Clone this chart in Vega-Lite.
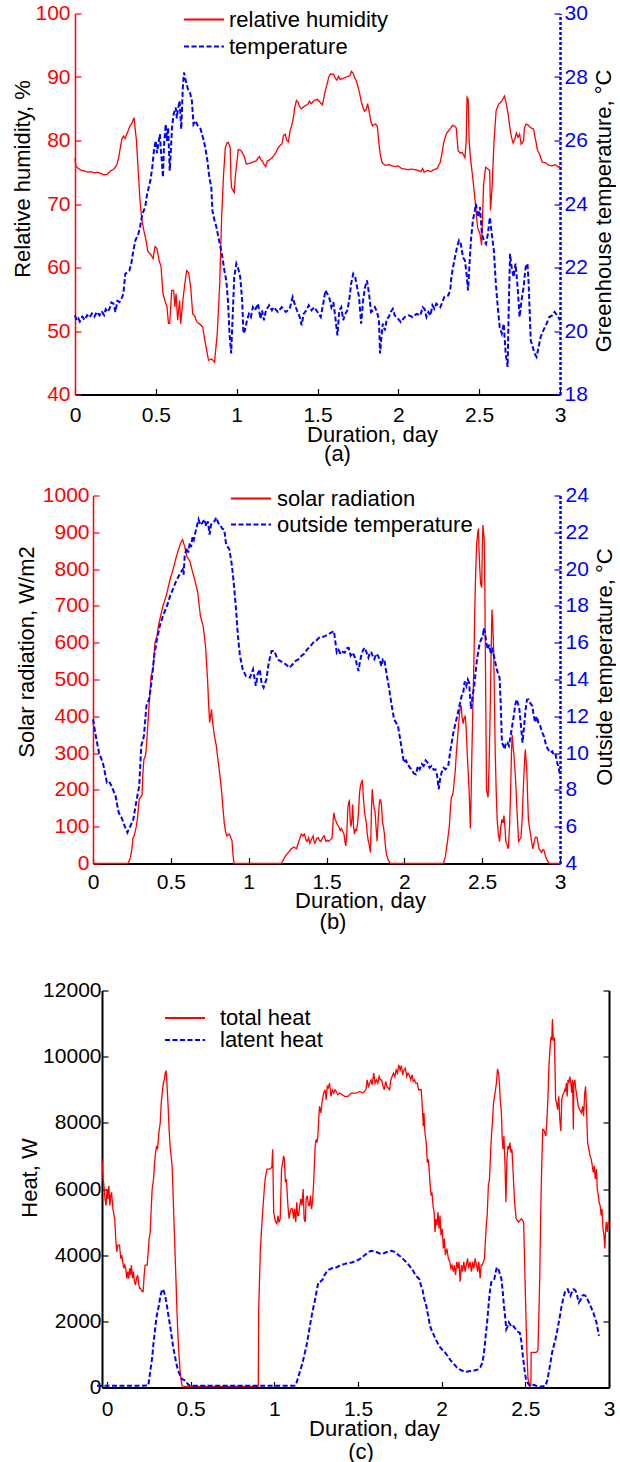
{
  "$schema": "https://vega.github.io/schema/vega-lite/v6.json",
  "background": "white",
  "padding": {"left": 0, "top": 2.5, "right": 0, "bottom": 0},
  "config": {
    "font": "Liberation Sans",
    "view": {"stroke": null},
    "axis": {"grid": false, "labelFont": "Liberation Sans", "titleFont": "Liberation Sans", "labelFontSize": 21, "titleFontSize": 22, "titleFontWeight": "normal", "titleColor": "#000000", "labelColor": "#000000", "domainColor": "#000000", "tickColor": "#000000", "tickSize": -6, "tickWidth": 1.2, "domainWidth": 1.5, "labelFlush": false, "labelOverlap": false},
    "legend": {"labelFont": "Liberation Sans", "labelFontSize": 22, "labelColor": "#000000", "labelLimit": 320, "symbolType": "M-4,0H4", "symbolSize": 100, "symbolStrokeWidth": 1.8, "padding": 0, "labelOffset": 20},
    "title": {"font": "Liberation Sans", "fontSize": 22, "fontWeight": "normal", "color": "#000000"}
  },
  "datasets": {
    "humidity": [
      {"day":0,"value":77.2},{"day":0.005,"value":76.0},{"day":0.02,"value":75.6},{"day":0.04,"value":75.3},{"day":0.06,"value":75.2},{"day":0.08,"value":75.0},{"day":0.1,"value":75.1},{"day":0.12,"value":74.9},{"day":0.14,"value":75.0},{"day":0.16,"value":74.8},{"day":0.18,"value":74.6},{"day":0.2,"value":74.7},{"day":0.22,"value":75.2},{"day":0.24,"value":75.5},{"day":0.25,"value":75.8},{"day":0.26,"value":76.3},{"day":0.27,"value":77.3},{"day":0.28,"value":78.8},{"day":0.29,"value":80.3},{"day":0.3,"value":80.7},{"day":0.31,"value":80.3},{"day":0.32,"value":81.0},{"day":0.33,"value":81.6},{"day":0.34,"value":82.3},{"day":0.35,"value":82.6},{"day":0.365,"value":83.6},{"day":0.38,"value":80.0},{"day":0.392,"value":74.8},{"day":0.402,"value":70.5},{"day":0.414,"value":67.4},{"day":0.426,"value":65.8},{"day":0.44,"value":64.2},{"day":0.45,"value":62.6},{"day":0.46,"value":62.3},{"day":0.47,"value":62.0},{"day":0.483,"value":61.4},{"day":0.495,"value":63.3},{"day":0.507,"value":63.0},{"day":0.52,"value":61.1},{"day":0.532,"value":60.2},{"day":0.544,"value":55.9},{"day":0.556,"value":54.8},{"day":0.569,"value":53.8},{"day":0.578,"value":51.2},{"day":0.586,"value":51.2},{"day":0.598,"value":56.4},{"day":0.61,"value":56.4},{"day":0.618,"value":53.8},{"day":0.625,"value":55.9},{"day":0.635,"value":51.7},{"day":0.647,"value":54.8},{"day":0.654,"value":51.1},{"day":0.667,"value":54.8},{"day":0.679,"value":57.4},{"day":0.691,"value":59.5},{"day":0.703,"value":59.2},{"day":0.716,"value":56.8},{"day":0.728,"value":52.7},{"day":0.74,"value":52.4},{"day":0.752,"value":51.5},{"day":0.765,"value":51.2},{"day":0.777,"value":51.0},{"day":0.79,"value":50.6},{"day":0.8,"value":49.0},{"day":0.814,"value":47.0},{"day":0.826,"value":45.4},{"day":0.845,"value":45.6},{"day":0.863,"value":45.1},{"day":0.88,"value":49.6},{"day":0.895,"value":57.4},{"day":0.907,"value":67.9},{"day":0.919,"value":74.7},{"day":0.93,"value":78.9},{"day":0.94,"value":79.6},{"day":0.949,"value":79.7},{"day":0.96,"value":78.9},{"day":0.965,"value":74.0},{"day":0.968,"value":72.6},{"day":0.985,"value":71.8},{"day":0.992,"value":74.5},{"day":0.998,"value":75.8},{"day":1.01,"value":78.6},{"day":1.027,"value":78.4},{"day":1.047,"value":77.5},{"day":1.059,"value":76.3},{"day":1.08,"value":76.4},{"day":1.1,"value":76.6},{"day":1.12,"value":76.8},{"day":1.14,"value":77.5},{"day":1.15,"value":77.0},{"day":1.16,"value":76.7},{"day":1.17,"value":76.2},{"day":1.18,"value":75.9},{"day":1.19,"value":76.8},{"day":1.2,"value":76.9},{"day":1.22,"value":77.3},{"day":1.24,"value":78.0},{"day":1.26,"value":79.0},{"day":1.28,"value":79.5},{"day":1.29,"value":80.8},{"day":1.3,"value":81.0},{"day":1.31,"value":80.0},{"day":1.32,"value":79.8},{"day":1.33,"value":81.5},{"day":1.34,"value":82.3},{"day":1.35,"value":83.5},{"day":1.36,"value":85.3},{"day":1.37,"value":86.3},{"day":1.38,"value":86.0},{"day":1.39,"value":85.3},{"day":1.4,"value":85.0},{"day":1.42,"value":85.4},{"day":1.44,"value":85.7},{"day":1.45,"value":86.2},{"day":1.46,"value":85.8},{"day":1.48,"value":86.3},{"day":1.5,"value":86.5},{"day":1.52,"value":85.9},{"day":1.53,"value":85.6},{"day":1.54,"value":86.8},{"day":1.55,"value":88.0},{"day":1.56,"value":89.0},{"day":1.57,"value":90.0},{"day":1.58,"value":90.5},{"day":1.6,"value":90.4},{"day":1.61,"value":89.8},{"day":1.62,"value":89.5},{"day":1.63,"value":90.1},{"day":1.64,"value":89.6},{"day":1.66,"value":89.8},{"day":1.68,"value":90.0},{"day":1.7,"value":90.2},{"day":1.71,"value":90.9},{"day":1.72,"value":90.6},{"day":1.73,"value":89.9},{"day":1.74,"value":89.4},{"day":1.75,"value":88.5},{"day":1.76,"value":87.5},{"day":1.77,"value":86.2},{"day":1.78,"value":85.3},{"day":1.79,"value":84.6},{"day":1.8,"value":84.8},{"day":1.81,"value":85.8},{"day":1.82,"value":84.5},{"day":1.83,"value":83.0},{"day":1.84,"value":82.3},{"day":1.85,"value":82.5},{"day":1.86,"value":82.6},{"day":1.87,"value":82.2},{"day":1.88,"value":79.5},{"day":1.89,"value":77.5},{"day":1.9,"value":76.5},{"day":1.92,"value":76.1},{"day":1.94,"value":76.2},{"day":1.96,"value":76.0},{"day":1.98,"value":75.9},{"day":2.0,"value":76.0},{"day":2.02,"value":75.6},{"day":2.04,"value":75.5},{"day":2.06,"value":75.4},{"day":2.08,"value":75.5},{"day":2.1,"value":75.4},{"day":2.12,"value":75.3},{"day":2.14,"value":75.1},{"day":2.15,"value":75.6},{"day":2.16,"value":75.0},{"day":2.18,"value":75.3},{"day":2.2,"value":75.1},{"day":2.22,"value":75.4},{"day":2.24,"value":75.6},{"day":2.26,"value":76.6},{"day":2.27,"value":78.0},{"day":2.28,"value":79.6},{"day":2.29,"value":80.5},{"day":2.3,"value":81.2},{"day":2.31,"value":81.5},{"day":2.32,"value":81.8},{"day":2.335,"value":82.4},{"day":2.346,"value":82.3},{"day":2.358,"value":82.0},{"day":2.37,"value":78.4},{"day":2.383,"value":78.0},{"day":2.395,"value":78.1},{"day":2.412,"value":77.3},{"day":2.42,"value":80.0},{"day":2.425,"value":86.8},{"day":2.432,"value":86.5},{"day":2.438,"value":80.0},{"day":2.445,"value":77.5},{"day":2.46,"value":74.2},{"day":2.475,"value":70.5},{"day":2.49,"value":66.3},{"day":2.505,"value":65.3},{"day":2.515,"value":63.5},{"day":2.52,"value":67.0},{"day":2.527,"value":73.0},{"day":2.54,"value":75.8},{"day":2.55,"value":75.6},{"day":2.565,"value":75.3},{"day":2.57,"value":69.0},{"day":2.58,"value":72.6},{"day":2.592,"value":80.0},{"day":2.605,"value":84.7},{"day":2.62,"value":85.7},{"day":2.64,"value":86.2},{"day":2.657,"value":87.0},{"day":2.67,"value":85.5},{"day":2.68,"value":84.0},{"day":2.69,"value":82.0},{"day":2.7,"value":80.5},{"day":2.71,"value":79.6},{"day":2.72,"value":80.2},{"day":2.73,"value":81.2},{"day":2.74,"value":80.5},{"day":2.75,"value":81.0},{"day":2.76,"value":79.4},{"day":2.775,"value":80.0},{"day":2.78,"value":82.0},{"day":2.79,"value":82.6},{"day":2.8,"value":82.5},{"day":2.82,"value":82.0},{"day":2.836,"value":81.8},{"day":2.85,"value":80.0},{"day":2.86,"value":78.5},{"day":2.873,"value":77.9},{"day":2.89,"value":76.6},{"day":2.91,"value":76.5},{"day":2.93,"value":76.1},{"day":2.95,"value":76.0},{"day":2.97,"value":76.2},{"day":2.99,"value":75.8},{"day":3.0,"value":76.0}
    ],
    "greenhouse": [
      {"day":0,"value":20.49},{"day":0.01,"value":20.34},{"day":0.02,"value":20.4},{"day":0.03,"value":20.3},{"day":0.045,"value":20.45},{"day":0.06,"value":20.35},{"day":0.075,"value":20.5},{"day":0.09,"value":20.42},{"day":0.105,"value":20.55},{"day":0.12,"value":20.45},{"day":0.135,"value":20.6},{"day":0.152,"value":20.49},{"day":0.165,"value":20.62},{"day":0.18,"value":20.5},{"day":0.19,"value":20.68},{"day":0.201,"value":20.6},{"day":0.215,"value":20.72},{"day":0.225,"value":20.9},{"day":0.238,"value":20.86},{"day":0.25,"value":20.6},{"day":0.262,"value":20.95},{"day":0.275,"value":20.91},{"day":0.29,"value":21.05},{"day":0.299,"value":21.17},{"day":0.311,"value":21.8},{"day":0.325,"value":21.85},{"day":0.336,"value":21.9},{"day":0.348,"value":22.12},{"day":0.36,"value":22.5},{"day":0.373,"value":22.85},{"day":0.392,"value":23.06},{"day":0.402,"value":23.27},{"day":0.417,"value":23.69},{"day":0.434,"value":23.9},{"day":0.446,"value":24.31},{"day":0.466,"value":24.73},{"day":0.478,"value":25.15},{"day":0.49,"value":25.78},{"day":0.5,"value":25.99},{"day":0.507,"value":25.6},{"day":0.515,"value":25.88},{"day":0.525,"value":26.2},{"day":0.531,"value":25.7},{"day":0.537,"value":25.36},{"day":0.544,"value":24.84},{"day":0.551,"value":25.88},{"day":0.561,"value":26.51},{"day":0.569,"value":25.99},{"day":0.576,"value":26.41},{"day":0.586,"value":25.05},{"day":0.593,"value":25.68},{"day":0.6,"value":26.41},{"day":0.61,"value":26.83},{"day":0.623,"value":27.04},{"day":0.63,"value":26.7},{"day":0.635,"value":26.93},{"day":0.647,"value":27.25},{"day":0.657,"value":26.36},{"day":0.667,"value":27.66},{"day":0.674,"value":28.14},{"day":0.686,"value":27.87},{"day":0.699,"value":27.61},{"day":0.711,"value":27.51},{"day":0.723,"value":27.25},{"day":0.733,"value":26.51},{"day":0.745,"value":26.62},{"day":0.76,"value":26.46},{"day":0.777,"value":26.36},{"day":0.794,"value":26.04},{"day":0.806,"value":25.78},{"day":0.819,"value":25.36},{"day":0.831,"value":24.84},{"day":0.843,"value":24.52},{"day":0.85,"value":23.79},{"day":0.863,"value":23.48},{"day":0.875,"value":23.27},{"day":0.887,"value":22.95},{"day":0.9,"value":22.64},{"day":0.912,"value":22.32},{"day":0.924,"value":21.9},{"day":0.936,"value":21.59},{"day":0.946,"value":20.96},{"day":0.956,"value":19.92},{"day":0.966,"value":19.29},{"day":0.975,"value":20.44},{"day":0.985,"value":21.7},{"day":0.998,"value":22.12},{"day":1.01,"value":21.96},{"day":1.022,"value":21.7},{"day":1.034,"value":20.96},{"day":1.042,"value":19.92},{"day":1.051,"value":20.02},{"day":1.064,"value":20.34},{"day":1.076,"value":20.54},{"day":1.088,"value":20.44},{"day":1.1,"value":20.75},{"day":1.113,"value":20.65},{"day":1.132,"value":20.86},{"day":1.147,"value":20.39},{"day":1.157,"value":20.65},{"day":1.169,"value":20.34},{"day":1.181,"value":20.65},{"day":1.201,"value":20.81},{"day":1.218,"value":20.65},{"day":1.23,"value":20.75},{"day":1.255,"value":20.6},{"day":1.279,"value":20.75},{"day":1.304,"value":20.6},{"day":1.328,"value":20.7},{"day":1.346,"value":21.07},{"day":1.358,"value":20.86},{"day":1.373,"value":20.65},{"day":1.39,"value":20.44},{"day":1.402,"value":20.18},{"day":1.414,"value":20.54},{"day":1.431,"value":20.65},{"day":1.446,"value":20.81},{"day":1.463,"value":20.65},{"day":1.48,"value":20.75},{"day":1.5,"value":20.6},{"day":1.52,"value":20.44},{"day":1.537,"value":20.91},{"day":1.549,"value":21.28},{"day":1.561,"value":21.17},{"day":1.574,"value":21.02},{"day":1.586,"value":20.75},{"day":1.598,"value":20.91},{"day":1.61,"value":20.44},{"day":1.623,"value":19.86},{"day":1.635,"value":20.65},{"day":1.647,"value":20.75},{"day":1.659,"value":20.34},{"day":1.672,"value":20.54},{"day":1.684,"value":20.65},{"day":1.696,"value":20.96},{"day":1.708,"value":21.49},{"day":1.721,"value":21.8},{"day":1.733,"value":21.7},{"day":1.745,"value":21.38},{"day":1.757,"value":21.07},{"day":1.77,"value":20.23},{"day":1.782,"value":20.96},{"day":1.794,"value":21.38},{"day":1.806,"value":21.59},{"day":1.819,"value":21.17},{"day":1.831,"value":20.6},{"day":1.843,"value":20.65},{"day":1.855,"value":20.75},{"day":1.868,"value":20.6},{"day":1.88,"value":20.34},{"day":1.887,"value":19.29},{"day":1.897,"value":19.92},{"day":1.904,"value":20.23},{"day":1.917,"value":20.02},{"day":1.929,"value":20.39},{"day":1.941,"value":20.44},{"day":1.953,"value":20.6},{"day":1.966,"value":20.7},{"day":1.978,"value":20.49},{"day":1.99,"value":20.44},{"day":2.015,"value":20.28},{"day":2.039,"value":20.44},{"day":2.064,"value":20.49},{"day":2.088,"value":20.44},{"day":2.113,"value":20.54},{"day":2.137,"value":20.49},{"day":2.15,"value":20.75},{"day":2.162,"value":20.7},{"day":2.174,"value":20.44},{"day":2.186,"value":20.6},{"day":2.199,"value":20.49},{"day":2.211,"value":20.81},{"day":2.223,"value":20.7},{"day":2.235,"value":20.86},{"day":2.248,"value":20.81},{"day":2.26,"value":20.75},{"day":2.272,"value":20.91},{"day":2.284,"value":21.07},{"day":2.297,"value":21.12},{"day":2.309,"value":21.12},{"day":2.321,"value":21.28},{"day":2.328,"value":21.7},{"day":2.338,"value":22.0},{"day":2.35,"value":22.32},{"day":2.363,"value":22.64},{"day":2.375,"value":22.85},{"day":2.387,"value":22.74},{"day":2.4,"value":22.32},{"day":2.412,"value":22.22},{"day":2.422,"value":21.8},{"day":2.431,"value":21.28},{"day":2.439,"value":22.0},{"day":2.449,"value":22.85},{"day":2.461,"value":23.48},{"day":2.473,"value":23.79},{"day":2.48,"value":24.0},{"day":2.493,"value":23.58},{"day":2.505,"value":23.9},{"day":2.517,"value":23.06},{"day":2.529,"value":22.85},{"day":2.542,"value":22.74},{"day":2.554,"value":23.06},{"day":2.566,"value":23.58},{"day":2.578,"value":23.06},{"day":2.591,"value":22.53},{"day":2.603,"value":21.49},{"day":2.615,"value":20.75},{"day":2.627,"value":20.12},{"day":2.64,"value":19.92},{"day":2.652,"value":20.23},{"day":2.664,"value":19.29},{"day":2.676,"value":18.87},{"day":2.684,"value":20.96},{"day":2.691,"value":22.43},{"day":2.701,"value":22.0},{"day":2.713,"value":21.7},{"day":2.725,"value":22.12},{"day":2.738,"value":21.38},{"day":2.75,"value":20.44},{"day":2.762,"value":20.96},{"day":2.775,"value":21.38},{"day":2.787,"value":22.0},{"day":2.799,"value":22.12},{"day":2.806,"value":21.49},{"day":2.819,"value":19.71},{"day":2.831,"value":19.5},{"day":2.843,"value":19.29},{"day":2.855,"value":19.18},{"day":2.868,"value":19.5},{"day":2.88,"value":19.81},{"day":2.897,"value":20.02},{"day":2.917,"value":20.23},{"day":2.934,"value":20.44},{"day":2.951,"value":20.49},{"day":2.966,"value":20.6},{"day":2.983,"value":20.49},{"day":3.0,"value":20.34}
    ],
    "solar": [
      {"day":0,"value":0},{"day":0.2,"value":0},{"day":0.225,"value":0},{"day":0.24,"value":15},{"day":0.25,"value":40},{"day":0.257,"value":70},{"day":0.264,"value":75},{"day":0.277,"value":98},{"day":0.285,"value":120},{"day":0.297,"value":175},{"day":0.305,"value":180},{"day":0.315,"value":185},{"day":0.32,"value":240},{"day":0.327,"value":283},{"day":0.335,"value":290},{"day":0.34,"value":301},{"day":0.347,"value":340},{"day":0.353,"value":383},{"day":0.362,"value":440},{"day":0.373,"value":509},{"day":0.386,"value":528},{"day":0.398,"value":600},{"day":0.411,"value":618},{"day":0.42,"value":645},{"day":0.429,"value":663},{"day":0.449,"value":700},{"day":0.47,"value":727},{"day":0.483,"value":750},{"day":0.495,"value":772},{"day":0.508,"value":790},{"day":0.52,"value":808},{"day":0.533,"value":830},{"day":0.546,"value":849},{"day":0.555,"value":860},{"day":0.563,"value":871},{"day":0.576,"value":880},{"day":0.582,"value":870},{"day":0.589,"value":862},{"day":0.602,"value":835},{"day":0.612,"value":828},{"day":0.622,"value":822},{"day":0.635,"value":800},{"day":0.647,"value":781},{"day":0.66,"value":760},{"day":0.673,"value":736},{"day":0.69,"value":672},{"day":0.708,"value":645},{"day":0.716,"value":615},{"day":0.723,"value":591},{"day":0.73,"value":540},{"day":0.736,"value":500},{"day":0.742,"value":440},{"day":0.749,"value":383},{"day":0.755,"value":400},{"day":0.761,"value":419},{"day":0.767,"value":390},{"day":0.774,"value":365},{"day":0.783,"value":340},{"day":0.792,"value":320},{"day":0.805,"value":274},{"day":0.815,"value":240},{"day":0.825,"value":202},{"day":0.835,"value":150},{"day":0.843,"value":111},{"day":0.852,"value":85},{"day":0.86,"value":75},{"day":0.868,"value":78},{"day":0.876,"value":80},{"day":0.885,"value":70},{"day":0.893,"value":62},{"day":0.9,"value":20},{"day":0.906,"value":0},{"day":1.0,"value":0},{"day":1.1,"value":0},{"day":1.21,"value":0},{"day":1.236,"value":20},{"day":1.255,"value":30},{"day":1.274,"value":40},{"day":1.29,"value":45},{"day":1.307,"value":40},{"day":1.322,"value":60},{"day":1.338,"value":80},{"day":1.348,"value":75},{"day":1.358,"value":80},{"day":1.367,"value":65},{"day":1.376,"value":60},{"day":1.385,"value":70},{"day":1.393,"value":55},{"day":1.403,"value":65},{"day":1.414,"value":75},{"day":1.42,"value":60},{"day":1.426,"value":55},{"day":1.437,"value":68},{"day":1.447,"value":70},{"day":1.456,"value":62},{"day":1.464,"value":60},{"day":1.475,"value":70},{"day":1.485,"value":75},{"day":1.497,"value":60},{"day":1.506,"value":63},{"day":1.515,"value":60},{"day":1.526,"value":65},{"day":1.536,"value":70},{"day":1.543,"value":120},{"day":1.548,"value":138},{"day":1.555,"value":120},{"day":1.561,"value":115},{"day":1.57,"value":105},{"day":1.579,"value":100},{"day":1.588,"value":90},{"day":1.596,"value":95},{"day":1.604,"value":88},{"day":1.612,"value":80},{"day":1.62,"value":55},{"day":1.624,"value":48},{"day":1.63,"value":80},{"day":1.637,"value":150},{"day":1.642,"value":166},{"day":1.647,"value":170},{"day":1.652,"value":120},{"day":1.657,"value":100},{"day":1.663,"value":120},{"day":1.668,"value":160},{"day":1.674,"value":100},{"day":1.68,"value":80},{"day":1.686,"value":92},{"day":1.693,"value":90},{"day":1.7,"value":110},{"day":1.706,"value":140},{"day":1.712,"value":190},{"day":1.718,"value":211},{"day":1.725,"value":222},{"day":1.731,"value":225},{"day":1.737,"value":180},{"day":1.744,"value":140},{"day":1.75,"value":125},{"day":1.756,"value":110},{"day":1.762,"value":80},{"day":1.769,"value":60},{"day":1.776,"value":48},{"day":1.782,"value":30},{"day":1.786,"value":90},{"day":1.789,"value":150},{"day":1.794,"value":202},{"day":1.8,"value":170},{"day":1.806,"value":150},{"day":1.812,"value":140},{"day":1.818,"value":100},{"day":1.825,"value":60},{"day":1.832,"value":120},{"day":1.84,"value":166},{"day":1.846,"value":175},{"day":1.853,"value":160},{"day":1.86,"value":110},{"day":1.866,"value":100},{"day":1.872,"value":80},{"day":1.878,"value":50},{"day":1.885,"value":25},{"day":1.896,"value":10},{"day":1.91,"value":0},{"day":2.0,"value":0},{"day":2.1,"value":0},{"day":2.2,"value":0},{"day":2.251,"value":0},{"day":2.264,"value":20},{"day":2.277,"value":60},{"day":2.289,"value":100},{"day":2.296,"value":150},{"day":2.302,"value":180},{"day":2.31,"value":185},{"day":2.315,"value":200},{"day":2.322,"value":230},{"day":2.327,"value":250},{"day":2.334,"value":300},{"day":2.34,"value":330},{"day":2.347,"value":370},{"day":2.353,"value":400},{"day":2.358,"value":420},{"day":2.365,"value":430},{"day":2.37,"value":400},{"day":2.378,"value":380},{"day":2.384,"value":395},{"day":2.391,"value":400},{"day":2.397,"value":370},{"day":2.404,"value":300},{"day":2.41,"value":250},{"day":2.416,"value":200},{"day":2.42,"value":150},{"day":2.424,"value":95},{"day":2.429,"value":180},{"day":2.434,"value":300},{"day":2.44,"value":420},{"day":2.447,"value":550},{"day":2.453,"value":700},{"day":2.459,"value":800},{"day":2.465,"value":870},{"day":2.472,"value":900},{"day":2.476,"value":910},{"day":2.48,"value":850},{"day":2.485,"value":800},{"day":2.49,"value":760},{"day":2.497,"value":750},{"day":2.501,"value":860},{"day":2.505,"value":920},{"day":2.509,"value":900},{"day":2.513,"value":880},{"day":2.517,"value":760},{"day":2.52,"value":600},{"day":2.524,"value":400},{"day":2.528,"value":200},{"day":2.533,"value":190},{"day":2.538,"value":180},{"day":2.544,"value":260},{"day":2.551,"value":400},{"day":2.557,"value":560},{"day":2.563,"value":690},{"day":2.568,"value":650},{"day":2.574,"value":580},{"day":2.579,"value":440},{"day":2.584,"value":300},{"day":2.59,"value":200},{"day":2.596,"value":120},{"day":2.604,"value":80},{"day":2.612,"value":60},{"day":2.62,"value":100},{"day":2.627,"value":120},{"day":2.634,"value":110},{"day":2.64,"value":130},{"day":2.646,"value":100},{"day":2.652,"value":60},{"day":2.66,"value":50},{"day":2.668,"value":40},{"day":2.676,"value":100},{"day":2.683,"value":200},{"day":2.688,"value":300},{"day":2.693,"value":350},{"day":2.698,"value":320},{"day":2.703,"value":300},{"day":2.708,"value":270},{"day":2.713,"value":240},{"day":2.718,"value":200},{"day":2.723,"value":150},{"day":2.729,"value":100},{"day":2.734,"value":60},{"day":2.741,"value":65},{"day":2.749,"value":70},{"day":2.757,"value":120},{"day":2.764,"value":200},{"day":2.77,"value":260},{"day":2.777,"value":310},{"day":2.782,"value":280},{"day":2.787,"value":250},{"day":2.792,"value":180},{"day":2.797,"value":120},{"day":2.803,"value":100},{"day":2.81,"value":80},{"day":2.818,"value":60},{"day":2.825,"value":40},{"day":2.833,"value":55},{"day":2.84,"value":70},{"day":2.846,"value":72},{"day":2.853,"value":70},{"day":2.859,"value":55},{"day":2.865,"value":40},{"day":2.873,"value":35},{"day":2.881,"value":30},{"day":2.89,"value":38},{"day":2.898,"value":35},{"day":2.907,"value":20},{"day":2.916,"value":10},{"day":2.931,"value":0},{"day":3.0,"value":0}
    ],
    "outside": [
      {"day":0,"value":11.84},{"day":0.018,"value":10.93},{"day":0.038,"value":10.03},{"day":0.063,"value":9.48},{"day":0.075,"value":9.0},{"day":0.089,"value":8.4},{"day":0.104,"value":8.45},{"day":0.119,"value":8.22},{"day":0.145,"value":7.67},{"day":0.155,"value":7.2},{"day":0.165,"value":6.77},{"day":0.183,"value":6.5},{"day":0.203,"value":6.05},{"day":0.221,"value":5.68},{"day":0.231,"value":5.9},{"day":0.241,"value":6.05},{"day":0.259,"value":6.41},{"day":0.277,"value":7.31},{"day":0.297,"value":8.22},{"day":0.31,"value":10.39},{"day":0.327,"value":10.93},{"day":0.343,"value":12.56},{"day":0.36,"value":12.92},{"day":0.373,"value":13.65},{"day":0.393,"value":15.28},{"day":0.411,"value":16.18},{"day":0.429,"value":16.9},{"day":0.449,"value":17.45},{"day":0.475,"value":17.99},{"day":0.495,"value":18.53},{"day":0.513,"value":18.9},{"day":0.53,"value":19.26},{"day":0.551,"value":19.62},{"day":0.576,"value":19.98},{"day":0.582,"value":19.7},{"day":0.589,"value":20.71},{"day":0.602,"value":21.16},{"day":0.612,"value":20.9},{"day":0.622,"value":21.43},{"day":0.63,"value":21.2},{"day":0.64,"value":21.79},{"day":0.648,"value":21.6},{"day":0.657,"value":21.97},{"day":0.67,"value":22.42},{"day":0.678,"value":22.7},{"day":0.69,"value":22.4},{"day":0.703,"value":22.52},{"day":0.715,"value":22.7},{"day":0.728,"value":22.33},{"day":0.738,"value":22.6},{"day":0.749,"value":21.88},{"day":0.758,"value":22.4},{"day":0.766,"value":22.52},{"day":0.78,"value":22.6},{"day":0.792,"value":22.8},{"day":0.805,"value":22.5},{"day":0.817,"value":22.42},{"day":0.83,"value":22.2},{"day":0.843,"value":22.15},{"day":0.855,"value":21.34},{"day":0.876,"value":21.07},{"day":0.893,"value":20.16},{"day":0.906,"value":19.08},{"day":0.919,"value":17.81},{"day":0.931,"value":16.36},{"day":0.944,"value":15.28},{"day":0.962,"value":14.55},{"day":0.982,"value":14.19},{"day":1.008,"value":14.1},{"day":1.028,"value":14.55},{"day":1.046,"value":13.65},{"day":1.058,"value":14.3},{"day":1.071,"value":14.55},{"day":1.083,"value":13.8},{"day":1.096,"value":13.56},{"day":1.114,"value":14.01},{"day":1.129,"value":14.91},{"day":1.147,"value":15.55},{"day":1.165,"value":15.55},{"day":1.185,"value":15.1},{"day":1.205,"value":15.0},{"day":1.223,"value":14.91},{"day":1.242,"value":14.8},{"day":1.261,"value":14.64},{"day":1.28,"value":14.8},{"day":1.3,"value":15.0},{"day":1.32,"value":15.1},{"day":1.338,"value":15.28},{"day":1.356,"value":15.4},{"day":1.376,"value":15.64},{"day":1.395,"value":15.8},{"day":1.414,"value":16.0},{"day":1.433,"value":16.1},{"day":1.452,"value":16.27},{"day":1.47,"value":16.3},{"day":1.49,"value":16.36},{"day":1.51,"value":16.45},{"day":1.528,"value":16.54},{"day":1.548,"value":16.63},{"day":1.566,"value":15.46},{"day":1.578,"value":15.6},{"day":1.591,"value":15.37},{"day":1.605,"value":15.5},{"day":1.617,"value":15.46},{"day":1.63,"value":15.7},{"day":1.642,"value":15.73},{"day":1.655,"value":15.3},{"day":1.668,"value":15.46},{"day":1.688,"value":15.1},{"day":1.697,"value":14.7},{"day":1.706,"value":14.46},{"day":1.715,"value":15.0},{"day":1.723,"value":15.28},{"day":1.735,"value":15.6},{"day":1.744,"value":15.73},{"day":1.756,"value":15.5},{"day":1.769,"value":15.19},{"day":1.78,"value":15.5},{"day":1.789,"value":15.46},{"day":1.8,"value":15.2},{"day":1.807,"value":15.1},{"day":1.82,"value":15.4},{"day":1.832,"value":15.28},{"day":1.843,"value":15.0},{"day":1.853,"value":14.73},{"day":1.862,"value":15.1},{"day":1.871,"value":15.1},{"day":1.884,"value":14.4},{"day":1.896,"value":13.83},{"day":1.916,"value":12.74},{"day":1.934,"value":11.84},{"day":1.959,"value":11.48},{"day":1.977,"value":10.57},{"day":1.997,"value":9.48},{"day":2.01,"value":9.6},{"day":2.023,"value":9.39},{"day":2.036,"value":9.2},{"day":2.048,"value":9.12},{"day":2.06,"value":8.9},{"day":2.074,"value":8.85},{"day":2.087,"value":9.3},{"day":2.099,"value":9.12},{"day":2.112,"value":9.4},{"day":2.124,"value":9.3},{"day":2.137,"value":9.6},{"day":2.15,"value":9.48},{"day":2.162,"value":9.2},{"day":2.175,"value":9.3},{"day":2.188,"value":9.1},{"day":2.2,"value":9.12},{"day":2.21,"value":8.8},{"day":2.221,"value":8.04},{"day":2.23,"value":8.6},{"day":2.239,"value":8.94},{"day":2.252,"value":9.2},{"day":2.264,"value":9.12},{"day":2.282,"value":9.3},{"day":2.297,"value":10.21},{"day":2.315,"value":11.11},{"day":2.328,"value":11.6},{"day":2.34,"value":12.02},{"day":2.358,"value":12.74},{"day":2.368,"value":13.1},{"day":2.378,"value":13.29},{"day":2.388,"value":13.9},{"day":2.398,"value":13.65},{"day":2.408,"value":14.0},{"day":2.416,"value":13.83},{"day":2.423,"value":13.0},{"day":2.429,"value":12.4},{"day":2.439,"value":13.1},{"day":2.449,"value":13.65},{"day":2.458,"value":14.4},{"day":2.467,"value":15.1},{"day":2.476,"value":15.6},{"day":2.485,"value":16.0},{"day":2.495,"value":16.2},{"day":2.505,"value":16.36},{"day":2.51,"value":16.8},{"day":2.518,"value":16.54},{"day":2.527,"value":16.0},{"day":2.536,"value":15.64},{"day":2.546,"value":15.9},{"day":2.556,"value":15.37},{"day":2.566,"value":15.6},{"day":2.576,"value":15.28},{"day":2.585,"value":14.9},{"day":2.594,"value":14.55},{"day":2.603,"value":14.3},{"day":2.612,"value":14.1},{"day":2.62,"value":12.5},{"day":2.627,"value":10.57},{"day":2.636,"value":10.4},{"day":2.645,"value":10.21},{"day":2.653,"value":10.6},{"day":2.662,"value":10.57},{"day":2.672,"value":10.4},{"day":2.683,"value":10.93},{"day":2.693,"value":11.5},{"day":2.703,"value":12.02},{"day":2.712,"value":12.6},{"day":2.721,"value":12.92},{"day":2.73,"value":12.7},{"day":2.739,"value":12.38},{"day":2.749,"value":11.5},{"day":2.759,"value":10.57},{"day":2.769,"value":11.4},{"day":2.779,"value":12.38},{"day":2.788,"value":12.9},{"day":2.797,"value":12.92},{"day":2.81,"value":12.7},{"day":2.822,"value":12.56},{"day":2.83,"value":12.1},{"day":2.84,"value":11.66},{"day":2.85,"value":12.0},{"day":2.861,"value":11.66},{"day":2.872,"value":11.5},{"day":2.886,"value":11.11},{"day":2.898,"value":10.9},{"day":2.911,"value":10.39},{"day":2.924,"value":10.2},{"day":2.937,"value":10.03},{"day":2.95,"value":10.1},{"day":2.962,"value":9.85},{"day":2.972,"value":9.9},{"day":2.982,"value":9.48},{"day":2.992,"value":9.2},{"day":3.0,"value":8.76}
    ],
    "total": [
      {"day":-0.029,"value":6860},{"day":-0.024,"value":6300},{"day":-0.02,"value":6200},{"day":-0.012,"value":5700},{"day":-0.006,"value":5500},{"day":0.0,"value":6000},{"day":0.005,"value":5700},{"day":0.011,"value":6100},{"day":0.017,"value":5500},{"day":0.022,"value":5800},{"day":0.027,"value":5900},{"day":0.035,"value":5400},{"day":0.046,"value":5100},{"day":0.052,"value":4500},{"day":0.058,"value":4100},{"day":0.065,"value":4300},{"day":0.075,"value":4300},{"day":0.082,"value":3900},{"day":0.088,"value":4000},{"day":0.094,"value":3800},{"day":0.1,"value":3600},{"day":0.106,"value":3700},{"day":0.112,"value":3600},{"day":0.118,"value":3300},{"day":0.124,"value":3500},{"day":0.129,"value":3300},{"day":0.135,"value":3600},{"day":0.14,"value":3400},{"day":0.146,"value":3700},{"day":0.152,"value":3300},{"day":0.158,"value":3500},{"day":0.164,"value":3200},{"day":0.17,"value":3100},{"day":0.177,"value":3300},{"day":0.183,"value":3400},{"day":0.19,"value":3100},{"day":0.195,"value":3000},{"day":0.2,"value":3000},{"day":0.205,"value":2950},{"day":0.21,"value":2900},{"day":0.216,"value":2900},{"day":0.222,"value":3400},{"day":0.228,"value":3700},{"day":0.234,"value":3700},{"day":0.24,"value":3700},{"day":0.246,"value":4100},{"day":0.252,"value":4500},{"day":0.258,"value":4700},{"day":0.264,"value":5400},{"day":0.27,"value":6000},{"day":0.278,"value":6300},{"day":0.284,"value":6800},{"day":0.29,"value":7100},{"day":0.296,"value":7300},{"day":0.302,"value":7200},{"day":0.31,"value":7700},{"day":0.318,"value":8000},{"day":0.324,"value":8600},{"day":0.33,"value":8900},{"day":0.336,"value":9200},{"day":0.342,"value":9300},{"day":0.348,"value":9500},{"day":0.353,"value":9580},{"day":0.358,"value":9200},{"day":0.365,"value":8500},{"day":0.371,"value":7800},{"day":0.377,"value":7300},{"day":0.383,"value":7000},{"day":0.389,"value":6700},{"day":0.395,"value":5800},{"day":0.401,"value":4900},{"day":0.407,"value":4000},{"day":0.413,"value":3100},{"day":0.418,"value":2300},{"day":0.424,"value":1560},{"day":0.43,"value":1000},{"day":0.436,"value":550},{"day":0.442,"value":250},{"day":0.448,"value":50},{"day":0.46,"value":30},{"day":0.6,"value":30},{"day":0.8,"value":30},{"day":0.904,"value":30},{"day":0.906,"value":2270},{"day":0.91,"value":3000},{"day":0.916,"value":4100},{"day":0.92,"value":4500},{"day":0.925,"value":4900},{"day":0.93,"value":5300},{"day":0.937,"value":5800},{"day":0.945,"value":6300},{"day":0.956,"value":6600},{"day":0.97,"value":6600},{"day":0.985,"value":6650},{"day":0.99,"value":7200},{"day":0.996,"value":5300},{"day":1.003,"value":5100},{"day":1.008,"value":5000},{"day":1.015,"value":4950},{"day":1.022,"value":5200},{"day":1.027,"value":4990},{"day":1.035,"value":5100},{"day":1.043,"value":6600},{"day":1.05,"value":6800},{"day":1.055,"value":7000},{"day":1.06,"value":6900},{"day":1.066,"value":6200},{"day":1.072,"value":6300},{"day":1.081,"value":5500},{"day":1.088,"value":5100},{"day":1.094,"value":5300},{"day":1.1,"value":5400},{"day":1.108,"value":5400},{"day":1.115,"value":5100},{"day":1.121,"value":5400},{"day":1.128,"value":5000},{"day":1.134,"value":5600},{"day":1.14,"value":5200},{"day":1.145,"value":5200},{"day":1.152,"value":5500},{"day":1.158,"value":5700},{"day":1.165,"value":5500},{"day":1.172,"value":6000},{"day":1.178,"value":5100},{"day":1.185,"value":5000},{"day":1.19,"value":5700},{"day":1.197,"value":5800},{"day":1.204,"value":5500},{"day":1.21,"value":5500},{"day":1.216,"value":5800},{"day":1.222,"value":5400},{"day":1.228,"value":5600},{"day":1.235,"value":6200},{"day":1.244,"value":7300},{"day":1.25,"value":7500},{"day":1.255,"value":7400},{"day":1.26,"value":7600},{"day":1.265,"value":8100},{"day":1.27,"value":8500},{"day":1.278,"value":8300},{"day":1.287,"value":8700},{"day":1.295,"value":8900},{"day":1.303,"value":9000},{"day":1.31,"value":8700},{"day":1.316,"value":9100},{"day":1.322,"value":9050},{"day":1.33,"value":9200},{"day":1.338,"value":8800},{"day":1.346,"value":9000},{"day":1.355,"value":8900},{"day":1.362,"value":9000},{"day":1.37,"value":8950},{"day":1.38,"value":8850},{"day":1.39,"value":8900},{"day":1.405,"value":8850},{"day":1.42,"value":8800},{"day":1.44,"value":8800},{"day":1.46,"value":8900},{"day":1.476,"value":8900},{"day":1.49,"value":8900},{"day":1.511,"value":8950},{"day":1.53,"value":8900},{"day":1.547,"value":9000},{"day":1.555,"value":9300},{"day":1.562,"value":9100},{"day":1.57,"value":9200},{"day":1.578,"value":9300},{"day":1.585,"value":9150},{"day":1.594,"value":9500},{"day":1.602,"value":9200},{"day":1.61,"value":9300},{"day":1.618,"value":9200},{"day":1.626,"value":9400},{"day":1.633,"value":9300},{"day":1.641,"value":9300},{"day":1.65,"value":9100},{"day":1.657,"value":9000},{"day":1.665,"value":9250},{"day":1.673,"value":9100},{"day":1.681,"value":9050},{"day":1.689,"value":9000},{"day":1.696,"value":9300},{"day":1.704,"value":9400},{"day":1.712,"value":9500},{"day":1.72,"value":9400},{"day":1.728,"value":9600},{"day":1.736,"value":9500},{"day":1.744,"value":9750},{"day":1.752,"value":9600},{"day":1.759,"value":9730},{"day":1.767,"value":9450},{"day":1.775,"value":9600},{"day":1.783,"value":9650},{"day":1.791,"value":9400},{"day":1.799,"value":9500},{"day":1.807,"value":9430},{"day":1.815,"value":9300},{"day":1.823,"value":9450},{"day":1.83,"value":9250},{"day":1.838,"value":9300},{"day":1.846,"value":9200},{"day":1.854,"value":9200},{"day":1.862,"value":9000},{"day":1.87,"value":9000},{"day":1.878,"value":9000},{"day":1.884,"value":8500},{"day":1.89,"value":7900},{"day":1.894,"value":8300},{"day":1.9,"value":7700},{"day":1.908,"value":7400},{"day":1.914,"value":6800},{"day":1.92,"value":6900},{"day":1.925,"value":6600},{"day":1.93,"value":6200},{"day":1.937,"value":5800},{"day":1.942,"value":5900},{"day":1.948,"value":5500},{"day":1.955,"value":5300},{"day":1.96,"value":4700},{"day":1.966,"value":5100},{"day":1.972,"value":4900},{"day":1.978,"value":5300},{"day":1.984,"value":4800},{"day":1.99,"value":5200},{"day":1.996,"value":4600},{"day":2.003,"value":4800},{"day":2.01,"value":4200},{"day":2.016,"value":4500},{"day":2.022,"value":4000},{"day":2.031,"value":4200},{"day":2.04,"value":3900},{"day":2.048,"value":3800},{"day":2.055,"value":3600},{"day":2.062,"value":3700},{"day":2.07,"value":3500},{"day":2.076,"value":3700},{"day":2.083,"value":3400},{"day":2.09,"value":3800},{"day":2.097,"value":3600},{"day":2.104,"value":3800},{"day":2.11,"value":3200},{"day":2.118,"value":3700},{"day":2.125,"value":3500},{"day":2.132,"value":3800},{"day":2.14,"value":3500},{"day":2.147,"value":3700},{"day":2.155,"value":3900},{"day":2.161,"value":3600},{"day":2.17,"value":3800},{"day":2.178,"value":3500},{"day":2.185,"value":3800},{"day":2.192,"value":3600},{"day":2.2,"value":3900},{"day":2.208,"value":3700},{"day":2.215,"value":3500},{"day":2.222,"value":3800},{"day":2.23,"value":3300},{"day":2.236,"value":3700},{"day":2.243,"value":3700},{"day":2.25,"value":3800},{"day":2.256,"value":3900},{"day":2.262,"value":4500},{"day":2.268,"value":5000},{"day":2.272,"value":5200},{"day":2.279,"value":6100},{"day":2.286,"value":6300},{"day":2.29,"value":6800},{"day":2.296,"value":7500},{"day":2.303,"value":8000},{"day":2.31,"value":8600},{"day":2.319,"value":8900},{"day":2.327,"value":9200},{"day":2.334,"value":9630},{"day":2.34,"value":9500},{"day":2.345,"value":9200},{"day":2.35,"value":8700},{"day":2.357,"value":8300},{"day":2.362,"value":7500},{"day":2.367,"value":7200},{"day":2.372,"value":7600},{"day":2.378,"value":6800},{"day":2.384,"value":5600},{"day":2.39,"value":6900},{"day":2.396,"value":7300},{"day":2.402,"value":7200},{"day":2.408,"value":7400},{"day":2.414,"value":7100},{"day":2.42,"value":7200},{"day":2.428,"value":6400},{"day":2.436,"value":5600},{"day":2.445,"value":5100},{"day":2.46,"value":5000},{"day":2.476,"value":5100},{"day":2.49,"value":5000},{"day":2.497,"value":3500},{"day":2.504,"value":2070},{"day":2.51,"value":1000},{"day":2.516,"value":250},{"day":2.527,"value":50},{"day":2.533,"value":60},{"day":2.535,"value":1060},{"day":2.55,"value":1060},{"day":2.565,"value":1060},{"day":2.575,"value":1110},{"day":2.58,"value":2000},{"day":2.586,"value":3300},{"day":2.592,"value":5300},{"day":2.598,"value":6700},{"day":2.604,"value":7800},{"day":2.61,"value":7800},{"day":2.616,"value":7700},{"day":2.622,"value":7600},{"day":2.627,"value":7900},{"day":2.634,"value":8600},{"day":2.641,"value":9730},{"day":2.647,"value":10200},{"day":2.653,"value":10600},{"day":2.658,"value":10500},{"day":2.662,"value":11140},{"day":2.667,"value":10500},{"day":2.674,"value":10540},{"day":2.678,"value":9500},{"day":2.681,"value":8700},{"day":2.687,"value":8600},{"day":2.693,"value":8400},{"day":2.7,"value":8800},{"day":2.706,"value":8100},{"day":2.712,"value":7750},{"day":2.718,"value":8700},{"day":2.724,"value":8850},{"day":2.73,"value":8900},{"day":2.736,"value":9000},{"day":2.74,"value":8950},{"day":2.745,"value":9200},{"day":2.75,"value":8800},{"day":2.755,"value":9300},{"day":2.76,"value":9200},{"day":2.766,"value":9400},{"day":2.772,"value":9200},{"day":2.777,"value":8900},{"day":2.782,"value":9300},{"day":2.787,"value":7800},{"day":2.79,"value":9200},{"day":2.796,"value":9300},{"day":2.802,"value":9000},{"day":2.808,"value":8800},{"day":2.816,"value":8500},{"day":2.825,"value":8400},{"day":2.835,"value":8300},{"day":2.842,"value":8500},{"day":2.848,"value":8200},{"day":2.855,"value":8900},{"day":2.86,"value":9100},{"day":2.866,"value":8400},{"day":2.872,"value":7400},{"day":2.88,"value":7200},{"day":2.887,"value":7000},{"day":2.894,"value":6900},{"day":2.9,"value":6700},{"day":2.906,"value":6500},{"day":2.912,"value":6700},{"day":2.918,"value":6300},{"day":2.925,"value":6600},{"day":2.93,"value":6000},{"day":2.936,"value":5800},{"day":2.941,"value":5600},{"day":2.947,"value":5500},{"day":2.953,"value":5200},{"day":2.958,"value":5400},{"day":2.964,"value":4800},{"day":2.97,"value":4600},{"day":2.975,"value":4200},{"day":2.98,"value":4800},{"day":2.984,"value":5000},{"day":2.99,"value":4700},{"day":2.995,"value":5000},{"day":3.0,"value":4900}
    ],
    "latent": [
      {"day":-0.06,"value":50},{"day":0.0,"value":50},{"day":0.1,"value":50},{"day":0.2,"value":50},{"day":0.247,"value":60},{"day":0.26,"value":550},{"day":0.27,"value":900},{"day":0.278,"value":1360},{"day":0.286,"value":1700},{"day":0.294,"value":2070},{"day":0.302,"value":2300},{"day":0.31,"value":2470},{"day":0.318,"value":2750},{"day":0.33,"value":2970},{"day":0.336,"value":2950},{"day":0.342,"value":2870},{"day":0.35,"value":2700},{"day":0.358,"value":2470},{"day":0.366,"value":2200},{"day":0.377,"value":1870},{"day":0.386,"value":1550},{"day":0.394,"value":1260},{"day":0.404,"value":1000},{"day":0.413,"value":760},{"day":0.422,"value":560},{"day":0.43,"value":450},{"day":0.44,"value":330},{"day":0.448,"value":250},{"day":0.46,"value":230},{"day":0.47,"value":200},{"day":0.48,"value":120},{"day":0.495,"value":50},{"day":0.6,"value":50},{"day":0.8,"value":50},{"day":1.0,"value":50},{"day":1.121,"value":50},{"day":1.133,"value":150},{"day":1.145,"value":350},{"day":1.157,"value":550},{"day":1.169,"value":760},{"day":1.18,"value":1000},{"day":1.192,"value":1260},{"day":1.204,"value":1600},{"day":1.216,"value":1970},{"day":1.228,"value":2300},{"day":1.24,"value":2570},{"day":1.252,"value":2900},{"day":1.263,"value":3180},{"day":1.275,"value":3200},{"day":1.287,"value":3250},{"day":1.3,"value":3400},{"day":1.31,"value":3480},{"day":1.322,"value":3550},{"day":1.334,"value":3580},{"day":1.35,"value":3620},{"day":1.37,"value":3630},{"day":1.39,"value":3680},{"day":1.417,"value":3730},{"day":1.44,"value":3760},{"day":1.464,"value":3780},{"day":1.49,"value":3830},{"day":1.51,"value":3880},{"day":1.53,"value":3960},{"day":1.547,"value":4030},{"day":1.565,"value":4100},{"day":1.58,"value":4130},{"day":1.6,"value":4110},{"day":1.617,"value":4080},{"day":1.63,"value":4050},{"day":1.641,"value":4040},{"day":1.655,"value":4060},{"day":1.665,"value":4080},{"day":1.68,"value":4110},{"day":1.7,"value":4130},{"day":1.718,"value":4100},{"day":1.736,"value":4030},{"day":1.755,"value":3950},{"day":1.77,"value":3880},{"day":1.79,"value":3780},{"day":1.807,"value":3680},{"day":1.825,"value":3560},{"day":1.84,"value":3430},{"day":1.855,"value":3330},{"day":1.866,"value":3280},{"day":1.875,"value":3100},{"day":1.885,"value":2970},{"day":1.895,"value":2700},{"day":1.908,"value":2470},{"day":1.92,"value":2150},{"day":1.93,"value":1870},{"day":1.942,"value":1700},{"day":1.955,"value":1560},{"day":1.97,"value":1400},{"day":1.984,"value":1260},{"day":2.0,"value":1160},{"day":2.02,"value":1060},{"day":2.04,"value":920},{"day":2.055,"value":810},{"day":2.075,"value":700},{"day":2.09,"value":610},{"day":2.11,"value":540},{"day":2.127,"value":500},{"day":2.15,"value":480},{"day":2.173,"value":500},{"day":2.2,"value":520},{"day":2.22,"value":550},{"day":2.232,"value":620},{"day":2.244,"value":760},{"day":2.254,"value":1100},{"day":2.263,"value":1560},{"day":2.272,"value":2000},{"day":2.28,"value":2470},{"day":2.288,"value":2900},{"day":2.296,"value":3180},{"day":2.305,"value":3230},{"day":2.315,"value":3280},{"day":2.323,"value":3500},{"day":2.33,"value":3630},{"day":2.337,"value":3600},{"day":2.344,"value":3500},{"day":2.35,"value":3400},{"day":2.357,"value":3280},{"day":2.365,"value":2900},{"day":2.372,"value":2470},{"day":2.38,"value":2100},{"day":2.386,"value":1760},{"day":2.394,"value":1850},{"day":2.402,"value":1970},{"day":2.41,"value":1900},{"day":2.42,"value":1820},{"day":2.43,"value":1850},{"day":2.44,"value":1780},{"day":2.45,"value":1700},{"day":2.457,"value":1680},{"day":2.467,"value":1650},{"day":2.476,"value":1400},{"day":2.484,"value":1000},{"day":2.49,"value":760},{"day":2.497,"value":450},{"day":2.504,"value":250},{"day":2.515,"value":130},{"day":2.527,"value":50},{"day":2.55,"value":80},{"day":2.575,"value":30},{"day":2.587,"value":20},{"day":2.62,"value":50},{"day":2.63,"value":200},{"day":2.64,"value":450},{"day":2.65,"value":750},{"day":2.66,"value":1060},{"day":2.67,"value":1260},{"day":2.68,"value":1460},{"day":2.69,"value":1700},{"day":2.7,"value":1970},{"day":2.708,"value":2200},{"day":2.717,"value":2470},{"day":2.727,"value":2700},{"day":2.736,"value":2870},{"day":2.745,"value":2950},{"day":2.753,"value":2970},{"day":2.762,"value":2850},{"day":2.77,"value":2770},{"day":2.778,"value":2880},{"day":2.787,"value":2970},{"day":2.796,"value":2950},{"day":2.806,"value":2870},{"day":2.813,"value":2700},{"day":2.82,"value":2570},{"day":2.83,"value":2650},{"day":2.84,"value":2770},{"day":2.85,"value":2800},{"day":2.86,"value":2770},{"day":2.87,"value":2680},{"day":2.88,"value":2570},{"day":2.893,"value":2420},{"day":2.906,"value":2270},{"day":2.915,"value":2120},{"day":2.925,"value":1970},{"day":2.933,"value":1760},{"day":2.94,"value":1560}
    ]
  },
  "columns": 1,
  "spacing": 20,
  "resolve": {"scale": {"color": "independent", "strokeDash": "independent"}},
  "concat": [
    {
      "spacing": 0,
      "hconcat": [
        {"width": 11, "height": 1, "data": {"values": []}, "mark": {"type": "point", "opacity": 0}},
        {
          "width": 485,
          "height": 381,
          "title": {"text": "(a)", "orient": "bottom", "frame": "group", "anchor": "middle", "dx": 20, "offset": -2},
          "resolve": {"scale": {"y": "independent"}},
          "encoding": {
            "x": {"field": "day", "type": "quantitative", "scale": {"domain": [0, 3], "nice": false, "zero": false},
                  "axis": {"title": "Duration, day", "values": [0, 0.5, 1, 1.5, 2, 2.5, 3], "format": "~g", "labelPadding": 15.5, "titleX": 297, "titleY": 30, "domainWidth": 2}}
          },
          "layer": [
            {
              "data": {"name": "humidity"},
              "mark": {"type": "line", "strokeWidth": 1.3},
              "encoding": {
                "y": {"field": "value", "type": "quantitative", "scale": {"domain": [40, 100], "nice": false, "zero": false},
                      "axis": {"orient": "left", "values": [40, 50, 60, 70, 80, 90, 100], "format": "d", "title": "Relative humidity, %", "labelColor": "#ff0000", "domainColor": "#ff0000", "tickColor": "#ff0000", "labelPadding": 11, "titlePadding": 0, "titleY": 165}},
                "color": {"datum": "relative humidity", "scale": {"domain": ["relative humidity", "temperature"], "range": ["#ff0000", "#0000ff"]},
                          "legend": {"title": null, "orient": "none", "legendX": 193, "legendY": -5, "rowPadding": 5, "labelOffset": 14}},
                "strokeDash": {"datum": "relative humidity", "scale": {"domain": ["relative humidity", "temperature"], "range": [[1, 0], [5, 2.5]]},
                          "legend": {"title": null, "orient": "none", "legendX": 193, "legendY": -5, "rowPadding": 5, "labelOffset": 14}}
              }
            },
            {
              "data": {"name": "greenhouse"},
              "mark": {"type": "line", "strokeWidth": 2},
              "encoding": {
                "y": {"field": "value", "type": "quantitative", "scale": {"domain": [18, 30], "nice": false, "zero": false},
                      "axis": {"orient": "right", "values": [18, 20, 22, 24, 26, 28, 30], "format": "d", "title": "Greenhouse temperature, °C", "labelColor": "#0000ff", "domainColor": "#0000ff", "tickColor": "#0000ff", "domainDash": [3, 2], "domainWidth": 2.5, "labelPadding": 10, "titlePadding": 6, "titleAngle": -90, "titleBaseline": "top", "titleY": 197}},
                "color": {"datum": "temperature", "scale": {"domain": ["relative humidity", "temperature"], "range": ["#ff0000", "#0000ff"]},
                          "legend": {"title": null, "orient": "none", "legendX": 193, "legendY": -5, "rowPadding": 5, "labelOffset": 14}},
                "strokeDash": {"datum": "temperature", "scale": {"domain": ["relative humidity", "temperature"], "range": [[1, 0], [5, 2.5]]},
                          "legend": {"title": null, "orient": "none", "legendX": 193, "legendY": -5, "rowPadding": 5, "labelOffset": 14}}
              }
            }
          ]
        }
      ]
    },
    {
      "columns": 1,
      "spacing": 47,
      "resolve": {"scale": {"color": "independent", "strokeDash": "independent"}},
      "concat": [
        {
          "spacing": 0,
          "hconcat": [
            {"width": 15, "height": 1, "data": {"values": []}, "mark": {"type": "point", "opacity": 0}},
            {
              "width": 467,
              "height": 368,
              "title": {"text": "(b)", "orient": "bottom", "frame": "group", "anchor": "middle", "dx": 6.5, "offset": 0},
              "resolve": {"scale": {"y": "independent"}},
              "encoding": {
                "x": {"field": "day", "type": "quantitative", "scale": {"domain": [0, 3], "nice": false, "zero": false},
                      "axis": {"title": "Duration, day", "values": [0, 0.5, 1, 1.5, 2, 2.5, 3], "format": "~g", "labelPadding": 13.5, "titleX": 267, "titleY": 27, "domainWidth": 2}}
              },
              "layer": [
                {
                  "data": {"name": "solar"},
                  "mark": {"type": "line", "strokeWidth": 1.3},
                  "encoding": {
                    "y": {"field": "value", "type": "quantitative", "scale": {"domain": [0, 1000], "nice": false, "zero": false},
                          "axis": {"orient": "left", "values": [0, 100, 200, 300, 400, 500, 600, 700, 800, 900, 1000], "format": "d", "title": "Solar radiation, W/m2", "labelColor": "#ff0000", "domainColor": "#ff0000", "tickColor": "#ff0000", "labelPadding": 10, "titlePadding": 4, "titleY": 156}},
                    "color": {"datum": "solar radiation", "scale": {"domain": ["solar radiation", "outside temperature"], "range": ["#ff0000", "#0000ff"]},
                              "legend": {"title": null, "orient": "none", "legendX": 240, "legendY": -8, "rowPadding": 4, "labelOffset": 15}},
                    "strokeDash": {"datum": "solar radiation", "scale": {"domain": ["solar radiation", "outside temperature"], "range": [[1, 0], [5, 2.5]]},
                              "legend": {"title": null, "orient": "none", "legendX": 240, "legendY": -8, "rowPadding": 4, "labelOffset": 15}}
                  }
                },
                {
                  "data": {"name": "outside"},
                  "mark": {"type": "line", "strokeWidth": 2},
                  "encoding": {
                    "y": {"field": "value", "type": "quantitative", "scale": {"domain": [4, 24], "nice": false, "zero": false},
                          "axis": {"orient": "right", "values": [4, 6, 8, 10, 12, 14, 16, 18, 20, 22, 24], "format": "d", "title": "Outside temperature, °C", "labelColor": "#0000ff", "domainColor": "#0000ff", "tickColor": "#0000ff", "domainDash": [3, 2], "domainWidth": 2.5, "labelPadding": 11, "titlePadding": 6, "titleAngle": -90, "titleBaseline": "top", "titleY": 171}},
                    "color": {"datum": "outside temperature", "scale": {"domain": ["solar radiation", "outside temperature"], "range": ["#ff0000", "#0000ff"]},
                              "legend": {"title": null, "orient": "none", "legendX": 240, "legendY": -8, "rowPadding": 4, "labelOffset": 15}},
                    "strokeDash": {"datum": "outside temperature", "scale": {"domain": ["solar radiation", "outside temperature"], "range": [[1, 0], [5, 2.5]]},
                              "legend": {"title": null, "orient": "none", "legendX": 240, "legendY": -8, "rowPadding": 4, "labelOffset": 15}}
                  }
                }
              ]
            }
          ]
        },
        {
          "spacing": 0,
          "hconcat": [
            {"width": 18, "height": 1, "data": {"values": []}, "mark": {"type": "point", "opacity": 0}},
            {
              "width": 507,
              "height": 397,
              "title": {"text": "(c)", "orient": "bottom", "frame": "group", "anchor": "middle", "dx": 5.5, "offset": 2},
              "resolve": {"scale": {"y": "independent"}},
              "encoding": {
                "x": {"field": "day", "type": "quantitative", "scale": {"domain": [-0.03, 3], "nice": false, "zero": false},
                      "axis": {"title": "Duration, day", "values": [0, 0.5, 1, 1.5, 2, 2.5, 3], "format": "~g", "labelPadding": 16.5, "titleX": 272, "titleY": 31, "domainWidth": 2}}
              },
              "layer": [
                {
                  "data": {"name": "total"},
                  "mark": {"type": "line", "strokeWidth": 1.3},
                  "encoding": {
                    "y": {"field": "value", "type": "quantitative", "scale": {"domain": [0, 12000], "nice": false, "zero": false},
                          "axis": {"orient": "left", "values": [0, 2000, 4000, 6000, 8000, 10000, 12000], "format": "d", "title": "Heat, W", "domainWidth": 2, "labelPadding": 7, "titlePadding": 1, "titleY": 187}},
                    "color": {"datum": "total heat", "scale": {"domain": ["total heat", "latent heat"], "range": ["#ff0000", "#0000ff"]},
                              "legend": {"title": null, "orient": "none", "legendX": 174, "legendY": 16.5, "rowPadding": -3, "labelOffset": 24}},
                    "strokeDash": {"datum": "total heat", "scale": {"domain": ["total heat", "latent heat"], "range": [[1, 0], [5, 2.5]]},
                              "legend": {"title": null, "orient": "none", "legendX": 174, "legendY": 16.5, "rowPadding": -3, "labelOffset": 24}}
                  }
                },
                {
                  "data": {"name": "latent"},
                  "mark": {"type": "line", "strokeWidth": 2},
                  "encoding": {
                    "y": {"field": "value", "type": "quantitative", "scale": {"domain": [0, 12000], "nice": false, "zero": false},
                          "axis": {"orient": "right", "values": [0, 2000, 4000, 6000, 8000, 10000, 12000], "labels": false, "title": null, "domainWidth": 2}},
                    "color": {"datum": "latent heat", "scale": {"domain": ["total heat", "latent heat"], "range": ["#ff0000", "#0000ff"]},
                              "legend": {"title": null, "orient": "none", "legendX": 174, "legendY": 16.5, "rowPadding": -3, "labelOffset": 24}},
                    "strokeDash": {"datum": "latent heat", "scale": {"domain": ["total heat", "latent heat"], "range": [[1, 0], [5, 2.5]]},
                              "legend": {"title": null, "orient": "none", "legendX": 174, "legendY": 16.5, "rowPadding": -3, "labelOffset": 24}}
                  }
                }
              ]
            }
          ]
        }
      ]
    }
  ]
}
